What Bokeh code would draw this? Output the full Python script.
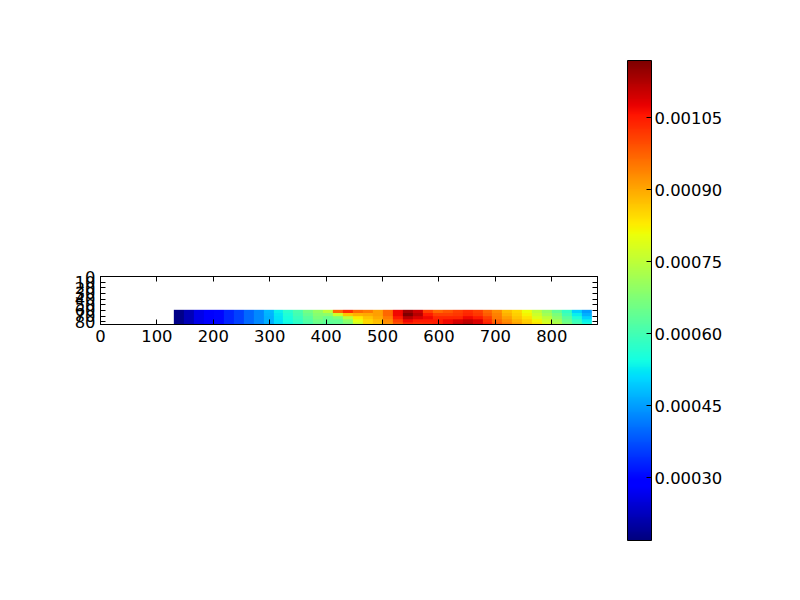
import numpy as np
from bokeh.plotting import figure
from bokeh.models import ColorBar, FixedTicker, LinearAxis, LinearColorMapper, Range1d
from bokeh.embed import file_html
from bokeh.resources import INLINE

x_start, x_end = 130, 871
y_start, y_end = 59, 85
x_ticks = [0, 100, 200, 300, 400, 500, 600, 700, 800]
y_ticks = [0, 10, 20, 30, 40, 50, 60, 70, 80]
bar_ticks = [0.00030, 0.00045, 0.00060, 0.00075, 0.00090, 0.00105]
bar_labels = ["0.00030", "0.00045", "0.00060", "0.00075", "0.00090", "0.00105"]
v_min, v_max = 0.00016875, 0.00116875

# Field values in units of 1e-6, top row of the strip first
row_0 = [179,219,259,279,299,329,359,399,429,474,529,569,609,659,699,749,969,1029,969,949,909,969,1069,1139,1099,1009,969,989,1009,1029,1009,969,929,879,849,809,749,699,639,579,499,449]
row_1 = [179,219,259,279,299,329,359,399,429,472,524,559,599,644,684,689,769,869,889,899,909,969,1069,1169,1119,1049,1009,1009,1019,1039,1019,979,939,889,859,819,769,719,669,599,529,469]
row_2 = [179,219,259,279,299,329,359,399,429,469,519,549,589,629,669,649,669,749,829,869,899,949,1049,1119,1089,1069,1039,1039,1039,1069,1049,1009,949,909,869,839,789,749,689,629,559,499]
row_3 = [179,219,259,279,299,329,359,399,429,467,514,544,579,619,654,639,639,689,799,849,879,929,1009,1069,1049,1049,1049,1069,1089,1109,1089,1029,969,929,889,859,819,769,719,649,589,529]
row_4 = [179,219,259,279,299,329,359,399,429,464,509,539,569,609,644,629,639,669,769,849,869,919,989,1039,1029,1039,1049,1069,1099,1119,1089,1049,989,949,909,869,839,789,739,669,609,549]

# the classic jet colour map
anchors = np.linspace(0, 1, 256)
red = np.interp(anchors, [0, 0.35, 0.66, 0.89, 1], [0, 0, 1, 1, 0.5])
green = np.interp(anchors, [0, 0.125, 0.375, 0.64, 0.91, 1], [0, 0, 1, 1, 0, 0])
blue = np.interp(anchors, [0, 0.11, 0.34, 0.65, 1], [0.5, 1, 1, 0, 0])
jet = ["#%02x%02x%02x" % (int(r * 255), int(g * 255), int(b * 255)) for r, g, b in zip(red, green, blue)]

mapper = LinearColorMapper(palette=jet, low=v_min, high=v_max)
field = np.array([row_0, row_1, row_2, row_3, row_4], dtype=float) * 1e-6

FONT = "DejaVu Sans"
SIZE = "16.4px"

p = figure(output_backend="svg", toolbar_location=None,
           x_range=Range1d(0, 881), y_range=Range1d(85, 0),
           min_border_left=100, min_border_right=193, min_border_top=276, min_border_bottom=272,
           x_axis_location="below", y_axis_location="left")
p.frame_width = 497
p.frame_height = 48
p.grid.visible = False
p.background_fill_color = "white"
p.border_fill_color = "white"
p.outline_line_color = "black"
p.outline_line_width = 1
p.image(image=[field], x=x_start, y=y_start, dw=x_end - x_start, dh=y_end - y_start, color_mapper=mapper)

def style(axis, ticks, labelled=True):
    axis.ticker = FixedTicker(ticks=ticks)
    axis.major_tick_in = 5
    axis.major_tick_out = 0
    axis.minor_tick_in = 0
    axis.minor_tick_out = 0
    axis.major_tick_line_color = "black"
    axis.axis_line_color = "black"
    axis.major_label_text_font = FONT
    axis.major_label_text_font_size = SIZE
    axis.major_label_text_color = "black" if labelled else None
    axis.major_label_standoff = 5

style(p.xaxis[0], x_ticks)
style(p.yaxis[0], y_ticks)
top = LinearAxis(); style(top, x_ticks, False); p.add_layout(top, "above")
right = LinearAxis(); style(right, y_ticks, False); p.add_layout(right, "right")

bar = ColorBar(color_mapper=mapper, location=(527, -216), width=24, height=480, margin=0, padding=0,
               ticker=FixedTicker(ticks=bar_ticks), major_label_overrides=dict(zip(bar_ticks, bar_labels)),
               major_tick_in=5, major_tick_line_color="black", minor_tick_line_color=None,
               bar_line_color="black", bar_line_width=1, label_standoff=3,
               major_label_text_font=FONT, major_label_text_font_size=SIZE,
               major_label_text_color="black", background_fill_color=None, border_line_color=None)
p.add_layout(bar)

open("out.html", "w").write(file_html(p, INLINE))
